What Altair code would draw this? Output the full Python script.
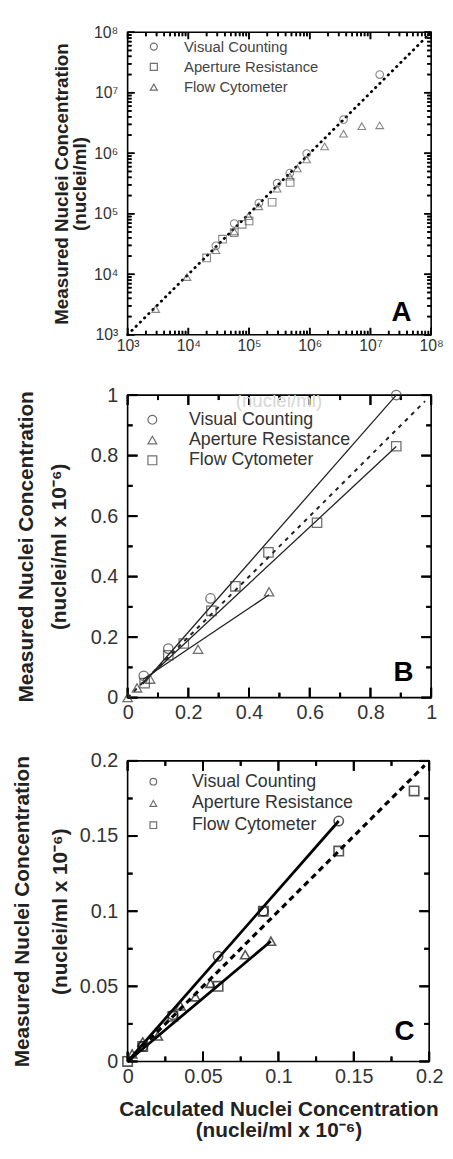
import math
import altair as alt
import pandas as pd

FONT = "Liberation Sans"
SERIES = ["Visual Counting", "Aperture Resistance", "Flow Cytometer"]

# ---------------- Panel A (log-log) ----------------
a_vis_x = [2.85e4, 5.7e4, 1.45e5, 2.9e5, 4.7e5, 8.9e5, 3.6e6, 1.42e7]
a_vis_y = [2.95e4, 6.9e4, 1.5e5, 3.2e5, 4.7e5, 9.9e5, 3.6e6, 2.0e7]
a_ar_x = [2.0e4, 3.66e4, 5.7e4, 7.7e4, 1.0e5, 2.4e5, 4.75e5]
a_ar_y = [1.86e4, 3.8e4, 4.9e4, 6.7e4, 7.6e4, 1.55e5, 3.3e5]
a_fc_x = [2.9e3, 9.5e3, 2.85e4, 5.7e4, 9.8e4, 1.45e5, 2.9e5, 4.7e5, 6.25e5,
          8.9e5, 1.76e6, 3.6e6, 7.2e6, 1.42e7]
a_fc_y = [2.66e3, 9.0e3, 2.5e4, 5.1e4, 9.1e4, 1.33e5, 2.6e5, 4.1e5, 5.6e5,
          7.9e5, 1.3e6, 2.1e6, 2.8e6, 2.9e6]
a_ident = [1e3, 1e8]
a_dom = [1e3, 1e8]
a_major = [1e3, 1e4, 1e5, 1e6, 1e7, 1e8]
a_minor = [k * 10 ** n for n in range(3, 8) for k in range(2, 10)]

# ---------------- Panel B ----------------
b_vis_x = [0.053, 0.134, 0.273, 0.885]
b_vis_y = [0.072, 0.162, 0.328, 1.0]
b_ar_x = [0.0, 0.031, 0.074, 0.232, 0.466]
b_ar_y = [0.0, 0.032, 0.061, 0.16, 0.35]
b_fc_x = [0.056, 0.134, 0.185, 0.276, 0.355, 0.464, 0.624, 0.885]
b_fc_y = [0.048, 0.14, 0.179, 0.287, 0.368, 0.48, 0.578, 0.831]
b_fit_vis_x = [0.05, 0.885]
b_fit_vis_y = [0.045, 1.0]
b_fit_ar_x = [0.05, 0.466]
b_fit_ar_y = [0.06, 0.34]
b_fit_fc_x = [0.05, 0.885]
b_fit_fc_y = [0.05, 0.83]
b_ident = [0.0, 0.98]
b_dom = [0.0, 1.0]
b_major = [0, 0.2, 0.4, 0.6, 0.8, 1.0]
b_minor = [0.1, 0.3, 0.5, 0.7, 0.9]

# ---------------- Panel C ----------------
c_vis_x = [0.01, 0.03, 0.06, 0.09, 0.14]
c_vis_y = [0.01, 0.031, 0.07, 0.10, 0.16]
c_ar_x = [0.003, 0.01, 0.02, 0.035, 0.045, 0.055, 0.078, 0.095]
c_ar_y = [0.005, 0.013, 0.017, 0.037, 0.043, 0.052, 0.071, 0.08]
c_fc_x = [0.0, 0.01, 0.03, 0.06, 0.09, 0.14, 0.19]
c_fc_y = [0.0, 0.01, 0.03, 0.05, 0.10, 0.14, 0.18]
c_fit_vis_x = [0.0, 0.14]
c_fit_vis_y = [0.0, 0.16]
c_fit_ar_x = [0.0, 0.095]
c_fit_ar_y = [0.0, 0.08]
c_ident = [0.0, 0.197]
c_dom = [0.0, 0.2]
c_major = [0, 0.05, 0.1, 0.15, 0.2]
c_minor = [0.025, 0.075, 0.125, 0.175]


def pts_frame(vx, vy, ax_, ay, fx, fy):
    rows = []
    for s, xs, ys in ((SERIES[0], vx, vy), (SERIES[1], ax_, ay), (SERIES[2], fx, fy)):
        rows += [{"series": s, "x": a, "y": b} for a, b in zip(xs, ys)]
    return pd.DataFrame(rows)


def line_frame(pairs):
    rows = []
    for s, xs, ys in pairs:
        rows += [{"series": s, "x": a, "y": b} for a, b in zip(xs, ys)]
    return pd.DataFrame(rows)


def frac_to_value(dom, log, frac):
    """Data value lying at a fraction of the axis span (used for tick length)."""
    if log:
        a, b = math.log10(dom[0]), math.log10(dom[1])
        return 10 ** (a + frac * (b - a))
    return dom[0] + frac * (dom[1] - dom[0])


def tick_segments(xmaj, xmin, ymaj, ymin, dom, log, W, H, maj_len, min_len):
    """Inward frame ticks on all four sides, as short line segments."""
    rows, g = [], 0
    for vals, L in ((xmaj, maj_len), (xmin, min_len)):
        for v in vals:
            rows += [{"g": g, "x": v, "y": dom[0]},
                     {"g": g, "x": v, "y": frac_to_value(dom, log, L / H)}]
            g += 1
            rows += [{"g": g, "x": v, "y": dom[1]},
                     {"g": g, "x": v, "y": frac_to_value(dom, log, 1 - L / H)}]
            g += 1
    for vals, L in ((ymaj, maj_len), (ymin, min_len)):
        for v in vals:
            rows += [{"g": g, "x": dom[0], "y": v},
                     {"g": g, "x": frac_to_value(dom, log, L / W), "y": v}]
            g += 1
            rows += [{"g": g, "x": dom[1], "y": v},
                     {"g": g, "x": frac_to_value(dom, log, 1 - L / W), "y": v}]
            g += 1
    return pd.DataFrame(rows)


def tick_centres(vals, dom, log, W, H, L, vertical):
    """Centres of inward ticks (both opposite sides) for symbol-drawn ticks."""
    rows = []
    for v in vals:
        if vertical:
            rows += [{"x": v, "y": frac_to_value(dom, log, L / (2 * H))},
                     {"x": v, "y": frac_to_value(dom, log, 1 - L / (2 * H))}]
        else:
            rows += [{"x": frac_to_value(dom, log, L / (2 * W)), "y": v},
                     {"x": frac_to_value(dom, log, 1 - L / (2 * W)), "y": v}]
    return pd.DataFrame(rows)


def text_axis(orient, **kw):
    opts = dict(orient=orient, domain=False, grid=False, ticks=False, tickSize=0)
    opts.update(kw)
    return alt.Axis(**opts)


def panel(pts, fits, ident_vals, dom, log, major, minor, maj_len, min_len,
          xlab, ylab, ytitle1, xtitle2, shape_range, legend, pt_style, fit_style,
          ident_style, letter, letter_xy, W, H, tick_w, extra=None):
    sc = alt.Scale(type="log", domain=dom, nice=False) if log else \
        alt.Scale(domain=dom, nice=False, zero=False)

    def xy(ch, xa, ya):
        return ch.encode(x=alt.X("x:Q", scale=sc, axis=xa),
                         y=alt.Y("y:Q", scale=sc, axis=ya))

    inv = alt.Chart(pts).mark_point(opacity=0)
    ticks = tick_segments(major, minor, major, minor, dom, log, W, H,
                          maj_len, min_len)
    layers = [
        xy(inv, text_axis("bottom", **xlab), text_axis("left", **ylab)),
        xy(inv, text_axis("bottom", **xtitle2) if xtitle2 else None,
           text_axis("left", **ytitle1)),
        xy(alt.Chart(ticks).mark_line(color="black", strokeWidth=tick_w),
           None, None).encode(detail="g:N"),
    ]
    for vals, L in ((major, maj_len), (minor, min_len)):
        for vertical, path in ((True, "M0,-1L0,1"), (False, "M-1,0L1,0")):
            layers.append(xy(alt.Chart(tick_centres(vals, dom, log, W, H, L, vertical))
                             .mark_point(shape=path, size=L * L, filled=False,
                                         color="black", opacity=1,
                                         strokeWidth=tick_w), None, None))
    ident_df = pd.DataFrame({"x": ident_vals, "y": ident_vals})
    layers.append(xy(alt.Chart(ident_df).mark_line(**ident_style), None, None))
    if fits is not None:
        layers.append(xy(alt.Chart(fits).mark_line(**fit_style), None, None)
                      .encode(detail="series:N"))
    layers.append(
        xy(alt.Chart(pts).mark_point(**pt_style), None, None).encode(
            shape=alt.Shape("series:N",
                            scale=alt.Scale(domain=SERIES, range=shape_range),
                            legend=legend)))
    layers.append(
        alt.Chart(pd.DataFrame({"t": [letter]})).mark_text(
            font=FONT, fontSize=28, fontWeight="bold", color="black",
            align="center", baseline="middle").encode(
            text="t:N", x=alt.value(letter_xy[0]), y=alt.value(letter_xy[1])))
    if extra is not None:
        layers += extra
    return alt.layer(*layers).resolve_axis(
        x="independent", y="independent").properties(width=W, height=H)


def legend(x, y, fs, ssize, loff, rpad, color):
    return alt.Legend(title=None, orient="none", legendX=x, legendY=y,
                      direction="vertical", labelFont=FONT, labelFontSize=fs,
                      labelColor=color, symbolSize=ssize, symbolStrokeWidth=1.2,
                      symbolStrokeColor="#333", symbolFillColor="transparent",
                      labelOffset=loff, rowPadding=rpad, padding=0,
                      labelLimit=300)


SUP = "['⁰','¹','²','³','⁴','⁵','⁶','⁷','⁸','⁹'][round(log(datum.value)/LN10)]"
lab = dict(labelFont=FONT, labelColor="#333", labelFlush=False)
ttl = dict(titleFont=FONT, titleFontWeight="bold", titleColor="#222")
MEAS = "Measured Nuclei Concentration"
UNIT6 = "(nuclei/ml x 10⁻⁶)"

# ---- Panel A ----
A = panel(
    pts_frame(a_vis_x, a_vis_y, a_ar_x, a_ar_y, a_fc_x, a_fc_y), None, a_ident,
    a_dom, True, a_major, a_minor, 7, 4,
    dict(values=a_major, labelFontSize=16, labelPadding=3,
         labelExpr="'10' + " + SUP, title=None, **lab),
    dict(values=a_major, labelFontSize=16, labelPadding=10,
         labelExpr="'10' + " + SUP, title="(nuclei/ml)", titleFontSize=19,
         titlePadding=4, **lab, **ttl),
    dict(labels=False, title=MEAS, titleFontSize=19, titlePadding=57, **ttl),
    None,
    ["circle", "square", "triangle-up"],
    legend(19, 7, 15, 50, 23, 4.5, "#444"),
    dict(filled=False, size=60, strokeWidth=1.1, color="#555"),
    dict(),
    dict(color="black", strokeWidth=2.8, strokeDash=[0.5, 5.5], strokeCap="round"),
    "A", (277, 284), 307, 306, 1.6)

# ---- Panel B ----
ghost = alt.Chart(pd.DataFrame({"t": ["(nuclei/ml)"]})).mark_text(
    font=FONT, fontSize=19, color="#d6d6d6", align="center", baseline="middle",
    clip=True).encode(text="t:N", x=alt.value(153), y=alt.value(6))
B = panel(
    pts_frame(b_vis_x, b_vis_y, b_ar_x, b_ar_y, b_fc_x, b_fc_y),
    line_frame([(SERIES[0], b_fit_vis_x, b_fit_vis_y),
                (SERIES[1], b_fit_ar_x, b_fit_ar_y),
                (SERIES[2], b_fit_fc_x, b_fit_fc_y)]),
    b_ident, b_dom, False, b_major, b_minor, 10, 5,
    dict(values=b_major, labelFontSize=20, labelPadding=5, format="~g",
         title=None, **lab),
    dict(values=b_major, labelFontSize=20, labelPadding=10, format="~g",
         title=UNIT6, titleFontSize=21, titlePadding=21, **lab, **ttl),
    dict(labels=False, title=MEAS, titleFontSize=21, titlePadding=92, **ttl),
    None,
    ["circle", "triangle-up", "square"],
    legend(16, 16, 18, 80, 28, 2.5, "#333"),
    dict(filled=False, size=90, strokeWidth=1.3, color="#333"),
    dict(color="#222", strokeWidth=1.3),
    dict(color="#222", strokeWidth=2, strokeDash=[4, 5]),
    "B", (279, 281), 307, 306, 2.0, extra=[ghost])

# ---- Panel C ----
C = panel(
    pts_frame(c_vis_x, c_vis_y, c_ar_x, c_ar_y, c_fc_x, c_fc_y),
    line_frame([(SERIES[0], c_fit_vis_x, c_fit_vis_y),
                (SERIES[1], c_fit_ar_x, c_fit_ar_y)]),
    c_ident, c_dom, False, c_major, c_minor, 10, 5,
    dict(values=c_major, labelFontSize=20, labelPadding=5, format="~g",
         title="Calculated Nuclei Concentration", titleFontSize=21,
         titlePadding=13, **lab, **ttl),
    dict(values=c_major, labelFontSize=20, labelPadding=10, format="~g",
         title=UNIT6, titleFontSize=21, titlePadding=9, **lab, **ttl),
    dict(labels=False, title=MEAS, titleFontSize=21, titlePadding=96, **ttl),
    dict(labels=False, title=UNIT6, titleFontSize=21, titlePadding=59, **ttl),
    ["circle", "triangle-up", "square"],
    legend(17, 12, 18, 45, 30, 4, "#333"),
    dict(filled=False, size=90, strokeWidth=1.6, color="#111"),
    dict(color="black", strokeWidth=2.8),
    dict(color="black", strokeWidth=3.2, strokeDash=[6, 4.5]),
    "C", (280, 274), 305, 304, 2.0)

inner = alt.vconcat(B, C, spacing=27).resolve_scale(
    x="independent", y="independent", shape="independent").resolve_legend(
    shape="independent")
chart = alt.vconcat(A, inner, spacing=30).resolve_scale(
    x="independent", y="independent", shape="independent").resolve_legend(
    shape="independent").properties(
    padding={"left": 3, "top": 9, "right": 0, "bottom": 0}
).configure(font=FONT).configure_view(stroke="black", strokeWidth=1.6)

chart.save("out.html", embed_options={"renderer": "svg", "actions": False})
